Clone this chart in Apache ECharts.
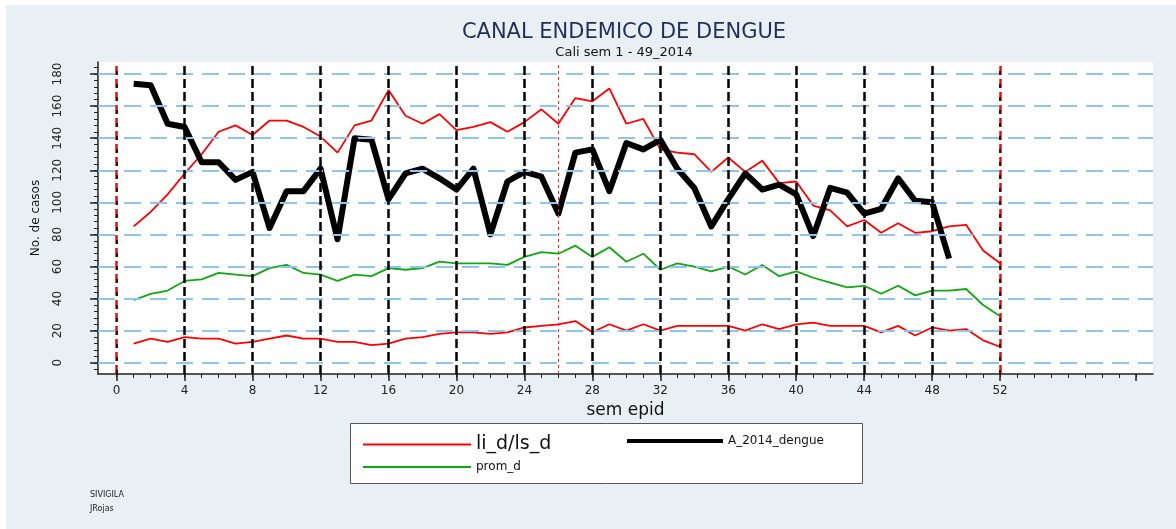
<!DOCTYPE html>
<html>
<head>
<meta charset="utf-8">
<script src="https://cdn.jsdelivr.net/npm/echarts@6/dist/echarts.min.js"></script>
<style>
html, body { margin: 0; padding: 0; background: #fff; }
#chart { position: absolute; left: 6px; top: 5px; width: 1170px; height: 524px; }
</style>
</head>
<body>
<div id="chart"></div>
<script>
// semanas epidemiologicas 1..52
const semanas = [1,2,3,4,5,6,7,8,9,10,11,12,13,14,15,16,17,18,19,20,21,22,23,24,25,26,
                 27,28,29,30,31,32,33,34,35,36,37,38,39,40,41,42,43,44,45,46,47,48,49,50,51,52];

// limite superior (ls_d)
const lsD = [85,94,105,118,130,144,148,142,151,151,147,141,131,148,151,170,154,149,155,145,147,150,144,150,158,149,
             165,163,171,149,152,133,131,130,119,128,119,126,112,113,98,95,85,89,81,87,81,82,85,86,70,62];
// limite inferior (li_d)
const liD = [12,15,13,16,15,15,12,13,15,17,15,15,13,13,11,12,15,16,18,19,19,18,19,22,23,24,
             26,19,24,20,24,20,23,23,23,23,20,24,21,24,25,23,23,23,19,23,17,22,20,21,14,10];
// promedio
const promD = [39,43,45,51,52,56,55,54,59,61,56,55,51,55,54,59,58,59,63,62,62,62,61,66,69,68,
               73,66,72,63,68,58,62,60,57,60,55,61,54,57,53,50,47,48,43,48,42,45,45,46,36,29];
// casos 2014 (sem 1 - 49)
const casos2014 = [174,173,149,147,125,125,114,119,84,107,107,121,77,140,139,102,118,121,115,108,121,80,113,119,116,93,
                   131,133,107,137,133,139,121,109,85,102,118,108,111,105,79,109,106,93,96,115,101,100,65];

const xLabels = [0,4,8,12,16,20,24,28,32,36,40,44,48,52];
const xMajorTicks = [0,4,8,12,16,20,24,28,32,36,40,44,48,52,60];
const xMinorTicks = [0,1,2,3,4,5,6,7,8,9,10,11,12,13,14,15,16,17,18,19,20,21,22,23,24,25,26,27,28,29,30,
                     31,32,33,34,35,36,37,38,39,40,41,42,43,44,45,46,47,48,49,50,51,52,53,54,55,56,57,58,59,60];
const yLabels = [0,20,40,60,80,100,120,140,160,180];
const yMinorTicks = [-4,0,4,8,12,16,20,24,28,32,36,40,44,48,52,56,60,64,68,72,76,80,84,88,92,96,100,
                     104,108,112,116,120,124,128,132,136,140,144,148,152,156,160,164,168,172,176,180,184];
const lineasNegras = [4,8,12,16,20,24,28,32,36,40,44,48];
const lineasRojas = [0,52];
const semanaActual = 26;

const toPairs = (vals) => vals.map((v, i) => [semanas[i], v]);

const FONT = 'DejaVu Sans';
const chart = echarts.init(document.getElementById('chart'));

const option = {
    animation: false,
    backgroundColor: '#E9F0F3',
    grid: {
        left: 92, top: 57, right: 23, bottom: 155,
        show: true, backgroundColor: '#ffffff', borderWidth: 0
    },
    xAxis: [{
        type: 'value', min: -1.1, max: 61, position: 'bottom',
        name: 'sem epid', nameLocation: 'middle', nameGap: 24,
        nameTextStyle: { fontFamily: FONT, fontSize: 17, color: '#111' },
        axisLine: { show: true, onZero: false, lineStyle: { color: '#222', width: 1.5 } },
        axisTick: { show: true, length: 7, customValues: xMajorTicks, lineStyle: { color: '#222', width: 1.5 } },
        axisLabel: { customValues: xLabels, fontFamily: FONT, fontSize: 12, color: '#222', margin: 11 },
        splitLine: { show: false }
    }, {
        type: 'value', min: -1.1, max: 61, position: 'bottom',
        axisLine: { show: false, onZero: false },
        axisTick: { show: true, length: 4, customValues: xMinorTicks, lineStyle: { color: '#222', width: 1 } },
        axisLabel: { show: false },
        splitLine: { show: false }
    }],
    yAxis: [{
        type: 'value', min: -7, max: 187.5, position: 'left',
        name: 'No. de casos', nameLocation: 'middle', nameGap: 56,
        nameTextStyle: { fontFamily: FONT, fontSize: 12, color: '#111' },
        axisLine: { show: true, onZero: false, lineStyle: { color: '#222', width: 1.5 } },
        axisTick: { show: true, length: 8, customValues: yLabels, lineStyle: { color: '#222', width: 1.5 } },
        axisLabel: { customValues: yLabels, rotate: 90, fontFamily: FONT, fontSize: 12, color: '#222', margin: 34 },
        splitLine: { show: false }
    }, {
        type: 'value', min: -7, max: 187.5, position: 'left',
        axisLine: { show: false, onZero: false },
        axisTick: { show: true, length: 4, customValues: yMinorTicks, lineStyle: { color: '#222', width: 1 } },
        axisLabel: { show: false },
        splitLine: { show: false }
    }],
    legend: [{
        data: [{ name: 'li_d/ls_d', textStyle: { fontSize: 19 } }],
        left: 356, top: 430, padding: 0, itemWidth: 108, itemHeight: 10, itemGap: 0,
        textStyle: { fontFamily: FONT, color: '#111' },
        itemStyle: { opacity: 0 },
        lineStyle: { width: 2 }
    }, {
        data: ['prom_d'],
        left: 356, top: 456, padding: 0, itemWidth: 108, itemHeight: 10,
        textStyle: { fontFamily: FONT, fontSize: 12, color: '#111' },
        itemStyle: { opacity: 0 },
        lineStyle: { width: 2 }
    }, {
        data: ['A_2014_dengue'],
        left: 619, top: 430, padding: 0, itemWidth: 96, itemHeight: 10,
        textStyle: { fontFamily: FONT, fontSize: 12, color: '#111' },
        itemStyle: { opacity: 0 },
        lineStyle: { width: 4 }
    }],
    graphic: [{
        type: 'rect', left: 344, top: 418, z: 0,
        shape: { width: 512, height: 60 },
        style: { fill: '#ffffff', stroke: '#555', lineWidth: 1 }
    }, {
        type: 'text', x: 618, y: 28,
        style: { text: 'CANAL ENDEMICO DE DENGUE', fill: '#1F2E5C', font: '21px "DejaVu Sans"', align: 'center', verticalAlign: 'middle' }
    }, {
        type: 'text', x: 618, y: 48,
        style: { text: 'Cali sem 1 - 49_2014', fill: '#111', font: '13px "DejaVu Sans"', align: 'center', verticalAlign: 'middle' }
    }, {
        type: 'text', x: 84, y: 490,
        style: { text: 'SIVIGILA', fill: '#222', font: '8px "DejaVu Sans"', align: 'left', verticalAlign: 'middle' }
    }, {
        type: 'text', x: 84, y: 504,
        style: { text: 'JRojas', fill: '#222', font: '8px "DejaVu Sans"', align: 'left', verticalAlign: 'middle' }
    }],
    series: [{
        // lineas de referencia horizontales
        type: 'line', data: [], z: 1, silent: true,
        markLine: {
            silent: true, symbol: 'none', label: { show: false },
            lineStyle: { color: '#8EC5EC', width: 2, type: [17, 9] },
            data: yLabels.map(v => ({ yAxis: v }))
        }
    }, {
        // semanas cada 4
        type: 'line', data: [], z: 2, silent: true,
        markLine: {
            silent: true, symbol: 'none', label: { show: false },
            lineStyle: { color: '#000', width: 2.5, type: [9, 4] },
            data: lineasNegras.map(v => ({ xAxis: v }))
        }
    }, {
        type: 'line', data: [], z: 2, silent: true,
        markLine: {
            silent: true, symbol: 'none', label: { show: false },
            lineStyle: { color: '#E01010', width: 2.5, type: [9, 4] },
            data: lineasRojas.map(v => ({ xAxis: v }))
        }
    }, {
        type: 'line', data: [], z: 2, silent: true,
        markLine: {
            silent: true, symbol: 'none', label: { show: false },
            lineStyle: { color: '#000', width: 1.5, type: [4, 9] },
            data: lineasRojas.map(v => ({ xAxis: v }))
        }
    }, {
        type: 'line', data: [], z: 2, silent: true,
        markLine: {
            silent: true, symbol: 'none', label: { show: false },
            lineStyle: { color: '#FF2020', width: 1, type: [3, 3] },
            data: [{ xAxis: semanaActual }]
        }
    }, {
        name: 'li_d/ls_d', type: 'line', z: 3,
        data: toPairs(lsD), showSymbol: false, symbol: 'none',
        lineStyle: { color: '#FF0000', width: 1.8 }, itemStyle: { color: '#FF0000' }
    }, {
        name: 'li_d/ls_d', type: 'line', z: 3,
        data: toPairs(liD), showSymbol: false, symbol: 'none',
        lineStyle: { color: '#FF0000', width: 1.8 }, itemStyle: { color: '#FF0000' }
    }, {
        name: 'prom_d', type: 'line', z: 3,
        data: toPairs(promD), showSymbol: false, symbol: 'none',
        lineStyle: { color: '#10A810', width: 1.8 }, itemStyle: { color: '#10A810' }
    }, {
        name: 'A_2014_dengue', type: 'line', z: 4,
        data: toPairs(casos2014), showSymbol: false, symbol: 'none',
        lineStyle: { color: '#000', width: 6, join: 'round' }, itemStyle: { color: '#000' }
    }]
};

chart.setOption(option);
</script>
</body>
</html>
